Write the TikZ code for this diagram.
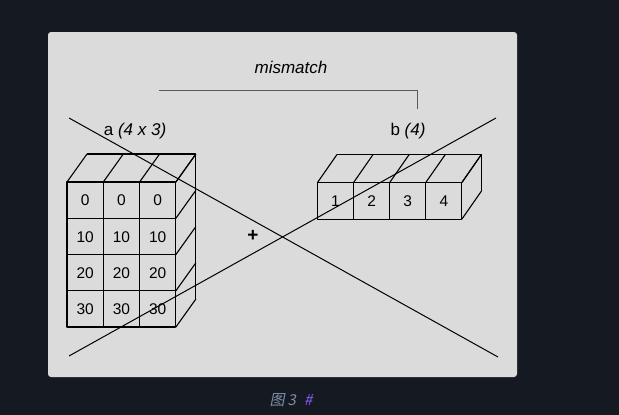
\documentclass[tikz,border=0pt]{standalone}
\usepackage{fontspec}
\setmainfont{Liberation Sans}
\newfontfamily\cjk[FakeSlant=0.2]{Noto Sans CJK SC}
\usetikzlibrary{positioning}
\definecolor{pagebg}{HTML}{151921}
\definecolor{panel}{HTML}{DBDBDB}
\definecolor{capgray}{HTML}{7C90A8}
\definecolor{cappurple}{HTML}{8B5CF6}

\begin{document}
\begin{tikzpicture}[x=1pt,y=-1pt,line join=round,
    cell/.style={font=\fontsize{15.5}{15.5}\selectfont,inner sep=0pt},
    label/.style={font=\fontsize{17}{17}\selectfont,inner sep=0pt},
    box/.style={draw=black,line width=1.1pt}]

    % Page and panel
    \useasboundingbox (0,0) rectangle (619,415);
    \fill[pagebg] (0,0) rectangle (619,415);
    \fill[panel,rounded corners=3pt] (48,32) rectangle (517,377);

    % Labels
    \node [label] at (291,67) (mis) {\itshape mismatch};
    \node [label] at (135,131) (la) {a \itshape(4 x 3)};
    \node [label] at (408,131) (lb) {b \itshape(4)};

    \coordinate (m1) at (159,90);
    \coordinate (m2) at (417,90);
    \coordinate (m3) at (417,109);
    \draw[black!65,line width=1pt] (m1) -- (m2) -- (m3);

    % Array a: 4 rows x 3 columns
    \foreach \r/\v in {0/0,1/10,2/20,3/30}{
      \foreach \c in {0,1,2}{
        \draw[box] (67+\c*36.3,182+\r*36.25) rectangle ++(36.3,36.25);
        \node [cell] at (85.15+\c*36.3,200.6+\r*36.25) (a\r\c) {\v};
      }
    }
    \foreach \c in {0,1,2,3}
      \draw[box] (67+\c*36.3,182) -- ++(20,-28);
    \foreach \r in {0,1,2,3,4}
      \draw[box] (175.9,182+\r*36.25) -- ++(20,-28);
    \draw[box] (87,154) -- (195.9,154) -- (195.9,299);

    % Array b: 4 values
    \foreach \c/\v in {0/1,1/2,2/3,3/4}{
      \draw[box] (317.5+\c*36.1,182.5) rectangle ++(36.1,36.6);
      \node [cell] at (335.55+\c*36.1,201.3) (b\c) {\v};
    }
    \foreach \c in {0,1,2,3,4}
      \draw[box] (317.5+\c*36.1,182.5) -- ++(19.5,-28);
    \foreach \r in {0,1}
      \draw[box] (461.9,182.5+\r*36.6) -- ++(19.5,-28);
    \draw[box] (337,154.5) -- (481.4,154.5) -- (481.4,191.1);

    % Plus sign
    \node [font=\fontsize{19}{19}\selectfont\bfseries,inner sep=0pt] at (253,236) (plus) {+};

    % Cross
    \coordinate (x1) at (69,118);
    \coordinate (x2) at (498,357);
    \coordinate (x3) at (69,356);
    \coordinate (x4) at (496,118);
    \draw[black,line width=1pt] (x1) -- (x2);
    \draw[black,line width=1pt] (x3) -- (x4);

    % Caption
    \node [inner sep=0pt,font=\fontsize{15}{15}\selectfont] at (291,400) (cap)
      {\textcolor{capgray}{\cjk 图\hspace{3pt}3}\hspace{8pt}\textcolor{cappurple}{\cjk \#}};

\end{tikzpicture}
\end{document}
